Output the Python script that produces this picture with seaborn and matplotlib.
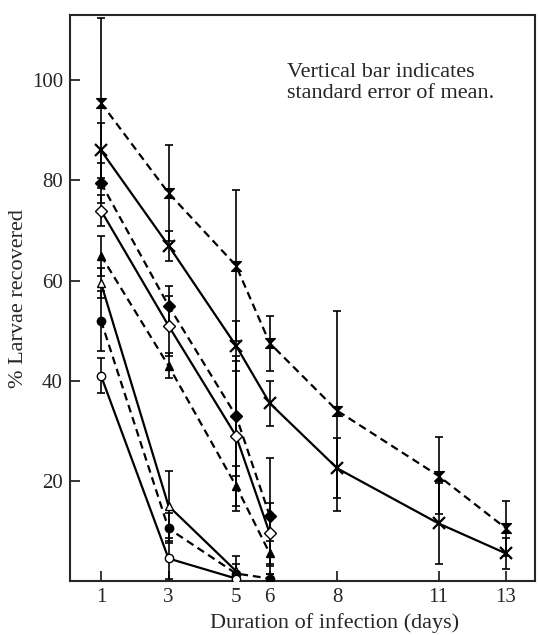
import numpy as np
import pandas as pd
import seaborn as sns
import matplotlib.pyplot as plt
from matplotlib.path import Path

# days of infection
days_long = [1, 3, 5, 6, 8, 11, 13]
days_mid = [1, 3, 5, 6]
days_short = [1, 3, 5]

# % larvae recovered (mean) and standard error
hourglass_y = [95.5, 77.5, 63, 47.5, 34, 21, 10.5]
hourglass_se = [17, 9.5, 15, 5.5, 20, 7.7, 5.5]
cross_y = [86, 67, 47, 35.5, 22.5, 11.5, 5.5]
cross_se = [5.5, 3, 5, 4.5, 6, 8, 3]
diamond_f_y = [79.5, 55, 33, 13]
diamond_f_se = [4, 4, 12, 11.5]
diamond_o_y = [74, 51, 29, 9.5]
diamond_o_se = [3, 6, 15, 6]
tri_f_y = [65, 43, 19, 5.5]
tri_f_se = [4, 2.5, 4, 2.5]
tri_o_y = [59.5, 15, 2]
tri_o_se = [3, 7, 3]
circ_f_y = [52, 10.5, 1.5, 0.5]
circ_f_se = [6, 3, 2, 1]
circ_o_y = [41, 4.5, 0.5]
circ_o_se = [3.5, 4, 1]

hourglass = Path([(-1, 1), (1, 1), (-1, -1), (1, -1), (-1, 1)],
                 [Path.MOVETO, Path.LINETO, Path.LINETO, Path.LINETO, Path.CLOSEPOLY])

sns.set_style("ticks")
plt.rcParams['font.family'] = ['Liberation Serif', 'DejaVu Serif']

fig = plt.figure(figsize=(5.38, 6.35), dpi=100)
ax = fig.add_axes([0.130, 0.085, 0.864, 0.891])

dash = (0, (3.5, 2.2))
series = [
    (days_long, hourglass_y, hourglass_se, dash, hourglass, 'black', 7),
    (days_long, cross_y, cross_se, '-', 'x', 'black', 8),
    (days_mid, diamond_f_y, diamond_f_se, dash, 'D', 'black', 6),
    (days_mid, diamond_o_y, diamond_o_se, '-', 'D', 'white', 6),
    (days_mid, tri_f_y, tri_f_se, dash, '^', 'black', 6),
    (days_short, tri_o_y, tri_o_se, '-', '^', 'white', 6),
    (days_mid, circ_f_y, circ_f_se, dash, 'o', 'black', 6),
    (days_short, circ_o_y, circ_o_se, '-', 'o', 'white', 6),
]

for x, y, se, ls, mk, fc, ms in series:
    ax.errorbar(x, y, yerr=se, fmt='none', ecolor='black', elinewidth=1.2,
                capsize=3, capthick=1.2, zorder=2)
    df = pd.DataFrame({'day': x, 'pct': y})
    sns.lineplot(data=df, x='day', y='pct', ax=ax, color='black', linestyle=ls,
                 linewidth=1.6, marker=mk, markersize=ms, markerfacecolor=fc,
                 markeredgecolor='black', markeredgewidth=1.6 if mk == 'x' else 1.0,
                 zorder=3)

ax.set_xlim(0.08, 13.85)
ax.set_ylim(0, 113)
ax.set_xticks(days_long)
ax.set_yticks([20, 40, 60, 80, 100])
ax.tick_params(direction='in', length=7, width=1.3, labelsize=15, pad=5)
for s in ax.spines.values():
    s.set_linewidth(1.5)

ax.set_xlabel('Duration of infection (days)', fontsize=16)
ax.xaxis.set_label_coords(0.57, -0.056)
ax.set_ylabel('% Larvae recovered', fontsize=16, labelpad=3)

ax.text(6.5, 99.5, 'Vertical bar indicates\nstandard error of mean.',
        fontsize=16, va='center', ha='left', linespacing=1.15)

fig.savefig('out.png', dpi=100)
